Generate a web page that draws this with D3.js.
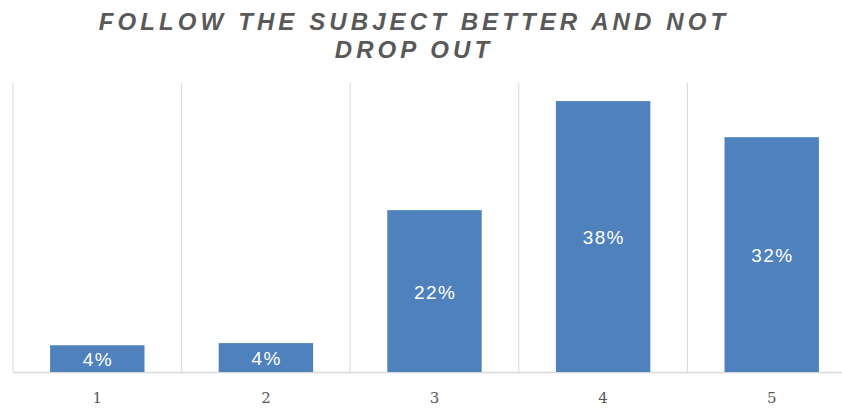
<!DOCTYPE html>
<html><head><meta charset="utf-8">
<script src="https://cdn.jsdelivr.net/npm/d3@7"></script>
<style>body{margin:0;background:#fff;} svg{display:block;}</style>
</head><body>
<svg id="c" width="842" height="408"></svg>
<script>
const categories = ["1","2","3","4","5"];
const values = [0.037, 0.040, 0.224, 0.375, 0.325];
const labels = ["4%","4%","22%","38%","32%"];
const titleLines = ["FOLLOW THE SUBJECT BETTER AND NOT","DROP OUT"];

(function(){
const svg = d3.select("#c");
const mLeft = 13, mRight = 856, mTop = 83, mBottom = 372;
const x = d3.scaleBand().domain(categories).range([mLeft, mRight]).paddingInner(0.44).paddingOuter(0.22);
const y = d3.scaleLinear().domain([0, 0.4]).range([mBottom, mTop]);
const step = x.step();

const bounds = categories.map(c => x(c) - x.paddingOuter()*step);
svg.append("g").selectAll("line").data(bounds).join("line")
  .attr("x1", d => d).attr("x2", d => d).attr("y1", mTop).attr("y2", mBottom)
  .attr("stroke", "#d9d9d9").attr("stroke-width", 1);

svg.append("line").attr("x1", mLeft).attr("x2", 842).attr("y1", mBottom+0.5).attr("y2", mBottom+0.5)
  .attr("stroke", "#d9d9d9").attr("stroke-width", 1.5);

svg.append("g").selectAll("rect").data(values).join("rect")
  .attr("x", (d,i) => x(categories[i]))
  .attr("width", x.bandwidth())
  .attr("y", d => y(d))
  .attr("height", d => mBottom - y(d))
  .attr("fill", "#4f81bd");

svg.append("g").selectAll("text").data(values).join("text")
  .attr("x", (d,i) => x(categories[i]) + x.bandwidth()/2 + 0.7)
  .attr("y", d => (y(d) + mBottom)/2 + 1)
  .attr("dy", "0.35em")
  .attr("text-anchor", "middle")
  .attr("fill", "#ffffff")
  .attr("font-family", "'Liberation Sans', Arial, sans-serif")
  .attr("font-size", 19).attr("letter-spacing", 1.4)
  .text((d,i) => labels[i]);

const xAxis = d3.axisBottom(x).tickSize(0).tickPadding(0);
const ax = svg.append("g").attr("transform", `translate(0,${mBottom})`).call(xAxis);
ax.select(".domain").remove();
ax.selectAll("text").attr("y", 26).attr("dy", "0.35em")
  .attr("fill", "#595959").attr("font-family", "'DejaVu Serif', serif").attr("font-size", 15);

svg.append("g").selectAll("text").data(titleLines).join("text")
  .attr("x", 414).attr("y", (d,i) => 30 + i*27.5)
  .attr("text-anchor", "middle")
  .attr("fill", "#595959")
  .attr("font-family", "'Liberation Sans', Arial, sans-serif")
  .attr("font-weight", "bold").attr("font-style", "italic")
  .attr("font-size", 24).attr("letter-spacing", 4.1)
  .text(d => d);
})();
</script>
</body></html>
